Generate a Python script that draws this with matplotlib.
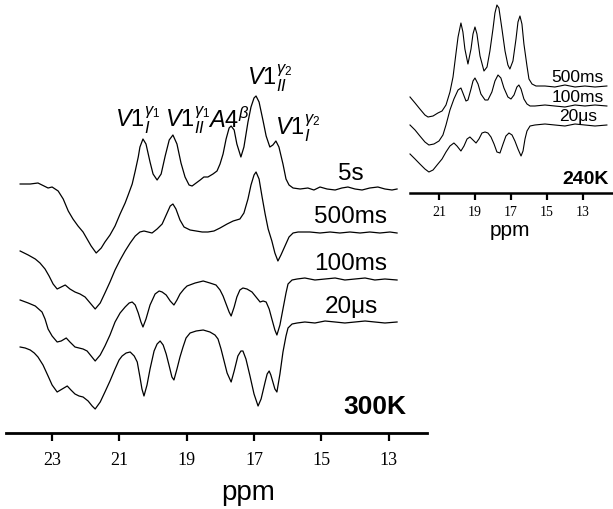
import matplotlib
matplotlib.use("Agg")
import matplotlib.pyplot as plt

plt.rcParams['font.family'] = ['Liberation Sans', 'DejaVu Sans']
plt.rcParams['mathtext.fontset'] = 'custom'
plt.rcParams['mathtext.rm'] = 'Liberation Sans'
plt.rcParams['mathtext.it'] = 'Liberation Sans:italic'
plt.rcParams['mathtext.bf'] = 'Liberation Sans:bold'

# ---- 300K spectra (ppm, intensity in a.u.) ----
ppm_5s = [23.95, 23.65, 23.42, 23.24, 23.12, 23.00, 22.82, 22.67, 22.52, 22.38, 22.23, 22.08,
          21.96, 21.84, 21.69, 21.54, 21.43, 21.28, 21.13, 20.98, 20.83, 20.74, 20.62, 20.53,
          20.44, 20.39, 20.30, 20.21, 20.09, 20.00, 19.88, 19.76, 19.64, 19.52, 19.41, 19.29,
          19.17, 19.05, 18.93, 18.84, 18.72, 18.60, 18.49, 18.37, 18.22, 18.10, 18.01, 17.92,
          17.83, 17.74, 17.68, 17.59, 17.51, 17.39, 17.30, 17.18, 17.09, 17.00, 16.94, 16.85,
          16.73, 16.64, 16.53, 16.44, 16.35, 16.26, 16.14, 16.05, 15.96, 15.84, 15.63, 15.40,
          15.22, 15.04, 14.83, 14.59, 14.39, 14.21, 14.00, 13.79, 13.56, 13.32, 13.11, 12.90, 12.75]
int_5s = [5, 5, 6, 3, 1, 2, -2, -10, -22, -30, -37, -43,
          -50, -57, -64, -59, -53, -46, -37, -25, -14, -6, 5, 18,
          32, 42, 50, 45, 27, 15, 9, 15, 33, 49, 54, 45,
          26, 12, 4, 3, 6, 9, 12, 12, 15, 18, 25, 35,
          50, 61, 63, 59, 45, 32, 42, 67, 82, 91, 93, 87,
          68, 53, 42, 44, 48, 42, 25, 10, 4, 1, 0, 1,
          -1, 2, 0, -1, 1, 2, 0, -1, 1, 2, 0, -1, 0]

ppm_500ms = [23.95, 23.71, 23.50, 23.36, 23.21, 23.09, 22.97, 22.85, 22.73, 22.61, 22.47, 22.32,
             22.17, 22.02, 21.87, 21.72, 21.57, 21.43, 21.28, 21.13, 20.98, 20.83, 20.68, 20.53,
             20.39, 20.27, 20.15, 20.03, 19.88, 19.73, 19.61, 19.49, 19.41, 19.32, 19.20, 19.08,
             18.90, 18.72, 18.54, 18.37, 18.19, 18.01, 17.80, 17.62, 17.42, 17.30, 17.18, 17.09,
             17.00, 16.94, 16.85, 16.76, 16.67, 16.58, 16.47, 16.38, 16.29, 16.20, 16.08, 15.96,
             15.84, 15.69, 15.34, 15.04, 14.74, 14.45, 14.15, 13.85, 13.56, 13.26, 12.96, 12.75]
int_500ms = [-19, -23, -27, -31, -37, -44, -52, -57, -55, -53, -57, -60,
             -62, -65, -71, -77, -71, -61, -50, -38, -28, -19, -11, -4,
             0, 1, 0, -1, 3, 8, 17, 26, 28, 23, 12, 5,
             2, 1, 0, 0, 1, 4, 8, 11, 13, 19, 33, 47,
             57, 60, 53, 35, 18, 3, -9, -21, -29, -23, -14, -5,
             -1, 0, 0, -1, 0, -1, 0, -1, 0, -1, 0, -1]

ppm_100ms = [23.95, 23.71, 23.50, 23.30, 23.21, 23.12, 23.00, 22.85, 22.73, 22.58, 22.47, 22.32,
             22.20, 22.08, 21.96, 21.84, 21.72, 21.57, 21.43, 21.28, 21.13, 20.98, 20.83, 20.71,
             20.62, 20.53, 20.44, 20.36, 20.30, 20.21, 20.09, 19.94, 19.82, 19.73, 19.61, 19.49,
             19.38, 19.29, 19.20, 19.08, 18.99, 18.75, 18.51, 18.31, 18.13, 18.01, 17.92, 17.83,
             17.74, 17.68, 17.59, 17.51, 17.42, 17.33, 17.21, 17.06, 16.94, 16.82, 16.73, 16.64,
             16.55, 16.47, 16.38, 16.32, 16.23, 16.14, 16.05, 15.99, 15.87, 15.72, 15.49, 15.19,
             14.89, 14.59, 14.30, 14.00, 13.70, 13.41, 13.11, 12.75]
int_100ms = [-21, -24, -27, -33, -40, -50, -57, -63, -62, -59, -63, -68,
             -69, -70, -72, -77, -82, -76, -67, -56, -43, -34, -28, -24,
             -23, -26, -34, -43, -48, -40, -26, -15, -12, -13, -16, -22,
             -26, -21, -15, -10, -7, -4, -2, -4, -6, -11, -17, -25,
             -33, -37, -28, -18, -11, -9, -10, -13, -18, -23, -22, -23,
             -30, -40, -51, -56, -46, -30, -14, -5, -1, 0, 1, -1,
             0, 1, -1, 0, 1, -1, 0, -1]

ppm_20us = [23.95, 23.80, 23.65, 23.53, 23.42, 23.27, 23.12, 23.00, 22.85, 22.70, 22.55, 22.44,
            22.32, 22.20, 22.08, 21.93, 21.81, 21.72, 21.57, 21.43, 21.28, 21.13, 21.01, 20.92,
            20.80, 20.68, 20.56, 20.47, 20.39, 20.33, 20.27, 20.18, 20.09, 19.97, 19.88, 19.79,
            19.70, 19.61, 19.52, 19.44, 19.38, 19.29, 19.20, 19.11, 19.02, 18.90, 18.72, 18.51,
            18.31, 18.16, 18.07, 17.98, 17.89, 17.80, 17.68, 17.59, 17.48, 17.39, 17.33, 17.24,
            17.12, 17.00, 16.88, 16.79, 16.67, 16.61, 16.55, 16.50, 16.44, 16.38, 16.32, 16.23,
            16.14, 16.05, 15.99, 15.87, 15.72, 15.49, 15.19, 14.89, 14.59, 14.30, 14.00, 13.70,
            13.41, 13.11, 12.75]
int_20us = [-25, -26, -28, -31, -35, -43, -54, -63, -70, -67, -64, -68,
            -72, -74, -75, -79, -84, -87, -80, -70, -59, -47, -38, -34,
            -31, -30, -34, -40, -55, -67, -74, -63, -47, -29, -22, -19,
            -23, -32, -44, -55, -58, -47, -35, -25, -16, -11, -9, -8,
            -10, -13, -17, -27, -39, -51, -60, -49, -34, -29, -29, -37,
            -54, -72, -84, -77, -60, -52, -49, -53, -60, -67, -70, -52,
            -30, -14, -6, -2, -1, 0, -1, 1, 0, -1, 0, 1,
            0, -1, 0]

# ---- 240K spectra ----
ppm_240_500ms = [22.61, 22.33, 22.06, 21.78, 21.61, 21.33, 21.06, 20.83, 20.61, 20.39, 20.22, 20.06,
                 19.94, 19.78, 19.67, 19.56, 19.39, 19.22, 19.11, 19.00, 18.89, 18.72, 18.50, 18.33,
                 18.17, 18.00, 17.89, 17.78, 17.67, 17.50, 17.33, 17.17, 17.06, 16.89, 16.72, 16.61,
                 16.50, 16.39, 16.28, 16.11, 16.00, 15.83, 15.61, 15.11, 14.56, 14.00, 13.44, 12.89,
                 12.33, 11.67]
int_240_500ms = [-11, -17, -23, -29, -31, -30, -27, -25, -19, -6, 9, 32,
                 49, 63, 54, 37, 22, 37, 52, 59, 52, 30, 15, 19,
                 35, 57, 73, 81, 78, 57, 35, 21, 17, 25, 47, 64,
                 70, 62, 42, 20, 7, 2, 0, 0, -1, 1, -1, 0,
                 -1, 0]

ppm_240_100ms = [22.61, 22.33, 22.06, 21.78, 21.56, 21.28, 21.00, 20.78, 20.61, 20.39, 20.17, 19.94,
                 19.78, 19.67, 19.50, 19.39, 19.22, 19.11, 19.00, 18.83, 18.67, 18.44, 18.28, 18.06,
                 17.89, 17.72, 17.56, 17.39, 17.17, 17.00, 16.83, 16.67, 16.56, 16.44, 16.28, 16.11,
                 15.94, 15.67, 15.11, 14.56, 14.00, 13.44, 12.89, 12.33, 11.67]
int_240_100ms = [-19, -24, -30, -36, -39, -38, -35, -29, -19, -4, 7, 16,
                 18, 13, 5, 6, 17, 25, 28, 22, 12, 6, 6, 14,
                 25, 31, 28, 18, 9, 7, 11, 19, 21, 17, 7, 2,
                 0, 0, 1, 0, -1, 1, 0, 1, 0]

ppm_240_20us = [22.61, 22.33, 22.06, 21.78, 21.56, 21.33, 21.06, 20.83, 20.61, 20.39, 20.17, 20.00,
                19.78, 19.61, 19.44, 19.28, 19.11, 18.94, 18.78, 18.61, 18.44, 18.28, 18.11, 17.94,
                17.78, 17.61, 17.44, 17.28, 17.11, 16.94, 16.78, 16.61, 16.44, 16.33, 16.22, 16.11,
                15.94, 15.67, 15.11, 14.56, 14.00, 13.44, 12.89, 12.33, 11.67]
int_240_20us = [-29, -34, -39, -44, -47, -45, -39, -34, -27, -21, -18, -21,
                -26, -21, -14, -12, -15, -18, -14, -8, -7, -8, -12, -19,
                -27, -28, -19, -11, -8, -10, -16, -24, -31, -26, -14, -6,
                -1, 0, 1, 0, -1, 1, 0, -1, 0]

labels_300K = ['5s', '500ms', '100ms', '20\u03bcs']
labels_240K = ['500ms', '100ms', '20\u03bcs']
ticks_300K = [23, 21, 19, 17, 15, 13]
ticks_240K = [21, 19, 17, 15, 13]

peak_labels = [r'$\mathit{V1}_{\mathit{I}}^{\gamma_1}$', r'$\mathit{V1}_{\mathit{II}}^{\gamma_1}$',
               r'$\mathit{A4}^{\beta}$', r'$\mathit{V1}_{\mathit{II}}^{\gamma_2}$',
               r'$\mathit{V1}_{\mathit{I}}^{\gamma_2}$']
peak_label_pos = [(21.13, 306), (19.64, 306), (18.37, 306), (17.21, 348), (16.38, 298)]

# vertical stacking (layout only)
offsets_300K = [244, 201, 154, 111]
offsets_240K = [107, 87, 68]

W, H = 613, 510
fig = plt.figure(figsize=(W / 100, H / 100), dpi=100)

ax = fig.add_axes([6 / W, (H - 434) / H, 421 / W, 434 / H])
ax.patch.set_alpha(0)
spectra = [(ppm_5s, int_5s), (ppm_500ms, int_500ms), (ppm_100ms, int_100ms), (ppm_20us, int_20us)]
for (p, v), off in zip(spectra, offsets_300K):
    ax.plot(p, [i + off for i in v], color='black', lw=0.9, clip_on=False)
for lab, off in zip(labels_300K, offsets_300K):
    ax.text(14.12, off + 16, lab, ha='center', va='center', fontsize=17.5)
for lab, (px, py) in zip(peak_labels, peak_label_pos):
    ax.text(px, py, lab, ha='left', va='baseline', fontsize=17)
ax.text(12.46, 27, '300K', ha='right', va='center', fontsize=19, fontweight='bold')
ax.set_xlim(24.37, 11.86)
ax.set_ylim(0, 434)

ax2 = fig.add_axes([410 / W, (H - 194) / H, 203 / W, 194 / H])
ax2.patch.set_alpha(0)
spectra_240 = [(ppm_240_500ms, int_240_500ms), (ppm_240_100ms, int_240_100ms), (ppm_240_20us, int_240_20us)]
for (p, v), off in zip(spectra_240, offsets_240K):
    ax2.plot(p, [i + off for i in v], color='black', lw=0.8, clip_on=False)
for lab, off in zip(labels_240K, offsets_240K):
    ax2.text(13.28, off + 9, lab, ha='center', va='center', fontsize=12.5)
ax2.text(11.56, 14, '240K', ha='right', va='center', fontsize=14, fontweight='bold')
ax2.set_xlim(22.61, 11.33)
ax2.set_ylim(0, 194)

for a, ticks, fs, pad, lw in [(ax, ticks_300K, 13, 7, 2.0), (ax2, ticks_240K, 10, 4, 1.8)]:
    for s in ['top', 'left', 'right']:
        a.spines[s].set_visible(False)
    a.spines['bottom'].set_linewidth(lw)
    a.set_yticks([])
    a.set_xticks(ticks)
    a.set_xticklabels([str(t) for t in ticks], family='Liberation Serif', fontsize=fs)
    a.tick_params(axis='x', direction='out', length=6 if a is ax else 5, width=1.6, pad=pad)

ax.set_xlabel('ppm', fontsize=20)
ax.xaxis.set_label_coords(0.575, -0.136)
ax.xaxis.label.set_va('center')
ax2.set_xlabel('ppm', fontsize=15)
ax2.xaxis.set_label_coords(0.493, -0.186)
ax2.xaxis.label.set_va('center')

fig.savefig('out.png', dpi=100)
